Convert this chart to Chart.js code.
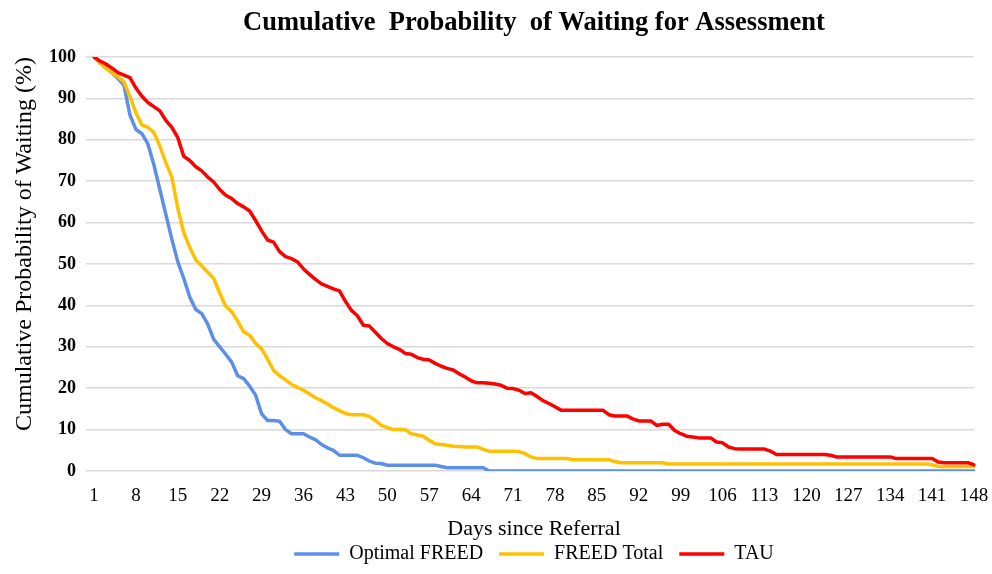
<!DOCTYPE html>
<html>
<head>
<meta charset="utf-8">
<script src="https://cdn.jsdelivr.net/npm/chart.js@4/dist/chart.umd.min.js"></script>
<style>
html,body{margin:0;padding:0;background:#fff;}
#wrap{width:992px;height:574px;position:relative;}
</style>
</head>
<body>
<div id="wrap"><canvas id="c" width="992" height="574"></canvas></div>
<script>
const days = [1,2,3,4,5,6,7,8,9,10,11,12,13,14,15,16,17,18,19,20,21,22,23,24,25,26,27,28,29,30,31,32,33,34,35,36,37,38,39,40,41,42,43,44,45,46,47,48,49,50,51,52,53,54,55,56,57,58,59,60,61,62,63,64,65,66,67,68,69,70,71,72,73,74,75,76,77,78,79,80,81,82,83,84,85,86,87,88,89,90,91,92,93,94,95,96,97,98,99,100,101,102,103,104,105,106,107,108,109,110,111,112,113,114,115,116,117,118,119,120,121,122,123,124,125,126,127,128,129,130,131,132,133,134,135,136,137,138,139,140,141,142,143,144,145,146,147,148];
const xTickLabels = ["1","8","15","22","29","36","43","50","57","64","71","78","85","92","99","106","113","120","127","134","141","148"];
const yTickValues = [0,10,20,30,40,50,60,70,80,90,100];

const optimalFreed = [
100,98.8,97.4,96.2,94.8,93.2,86,82.5,81.5,79,
74,68,62,56,50.5,46.5,42,39,38,35.5,
31.8,30,28.2,26.3,23,22.3,20.5,18.3,13.8,12.2,
12.2,12,10,9,9,9,8.2,7.6,6.4,5.6,
5,3.8,3.8,3.8,3.8,3.2,2.4,1.9,1.8,1.4,
1.4,1.4,1.4,1.4,1.4,1.4,1.4,1.4,1.1,0.8,
0.8,0.8,0.8,0.8,0.8,0.8,0,0,0,0,
0,0,0,0,0,0,0,0,0,0,
0,0,0,0,0,0,0,0,0,0,
0,0,0,0,0,0,0,0,0,0,
0,0,0,0,0,0,0,0,0,0,
0,0,0,0,0,0,0,0,0,0,
0,0,0,0,0,0,0,0,0,0,
0,0,0,0,0,0,0,0,0,0,
0,0,0,0,0,0,0,0];

const freedTotal = [
100,98.5,97.2,96.2,95.2,94,90.5,86.5,83.6,83,
81.8,78.5,74.5,71,63.5,57.5,54,51,49.5,48,
46.5,43,39.8,38.5,36.2,33.6,32.8,30.8,29.5,27,
24.3,23,22,20.9,20.2,19.5,18.6,17.7,17,16.2,
15.3,14.6,13.9,13.6,13.6,13.6,13.2,12.2,11,10.5,
10,10,10,9,8.7,8.4,7.4,6.6,6.4,6.2,
6,5.9,5.8,5.8,5.8,5.2,4.8,4.8,4.8,4.8,
4.8,4.7,4.2,3.4,3,3,3,3,3,3,
2.7,2.7,2.7,2.7,2.7,2.7,2.7,2.3,2,2,
2,2,2,2,2,2,1.7,1.7,1.7,1.7,
1.7,1.7,1.7,1.7,1.7,1.7,1.7,1.7,1.7,1.7,
1.7,1.7,1.7,1.7,1.7,1.7,1.7,1.7,1.7,1.7,
1.7,1.7,1.7,1.7,1.7,1.7,1.7,1.7,1.7,1.7,
1.7,1.7,1.7,1.7,1.7,1.7,1.7,1.7,1.7,1.7,
1.5,1.1,1.1,1.1,1.1,1.1,1.1,1.1];

const tau = [
100,99,98.3,97.3,96.2,95.6,95,92.5,90.5,89,
88,87,84.7,83,80.5,76,75,73.5,72.5,71,
69.8,68,66.6,65.8,64.6,63.8,62.8,60.5,58,55.8,
55.3,53,51.8,51.3,50.5,48.8,47.5,46.3,45.2,44.6,
44,43.5,41,38.8,37.5,35.2,35,33.5,32,30.8,
30,29.4,28.4,28.2,27.4,27,26.8,26,25.3,24.8,
24.4,23.5,22.7,21.8,21.3,21.3,21.2,21,20.7,20,
19.9,19.5,18.7,18.9,18,17,16.3,15.5,14.7,14.7,
14.7,14.7,14.7,14.7,14.7,14.7,13.6,13.3,13.3,13.3,
12.6,12.1,12.1,12.1,11,11.3,11.3,9.8,9,8.4,
8.2,8,8,8,7,6.8,5.8,5.4,5.3,5.3,
5.3,5.3,5.3,4.8,4,4,4,4,4,4,
4,4,4,3.8,3.4,3.4,3.4,3.4,3.4,3.4,
3.4,3.4,3.4,3.4,3,3,3,3,3,3,
3,2.2,2,2,2,2,2,1.5];

const seriesNames = ["Optimal FREED","FREED Total","TAU"];
const seriesColors = ["#5E8FE8","#FFC000","#FF0000"];

const serif = "'Liberation Serif','Times New Roman',serif";

function mk(i, data, order){
  return {
    label: seriesNames[i],
    data: data,
    borderColor: seriesColors[i],
    backgroundColor: seriesColors[i],
    borderWidth: 3.5,
    pointRadius: 0,
    pointHoverRadius: 0,
    tension: 0,
    borderJoinStyle: 'round',
    borderCapStyle: 'round',
    order: order
  };
}

new Chart(document.getElementById('c'), {
  type: 'line',
  data: {
    labels: days.map(String),
    datasets: [mk(0, optimalFreed, 2), mk(1, freedTotal, 1), mk(2, tau, 0)]
  },
  options: {
    responsive: false,
    animation: false,
    events: [],
    layout: { padding: { left: 0, right: 0, top: 0, bottom: 0 } },
    plugins: {
      title: {
        display: true,
        text: 'Cumulative  Probability  of Waiting for Assessment',
        color: '#000',
        fullSize: false,
        font: { family: serif, size: 26.5, weight: 'bold', lineHeight: 1.2 },
        padding: { top: 7, bottom: 18.2 }
      },
      legend: {
        position: 'bottom',
        fullSize: false,
        labels: {
          color: '#000',
          font: { family: serif, size: 20 },
          usePointStyle: true,
          pointStyle: 'line',
          pointStyleWidth: 45,
          padding: 16,
          sort: (a, b) => a.datasetIndex - b.datasetIndex
        }
      },
      tooltip: { enabled: false }
    },
    scales: {
      x: {
        type: 'category',
        grid: { display: false, drawTicks: false },
        border: { display: false },
        ticks: {
          autoSkip: false,
          maxRotation: 0,
          minRotation: 0,
          padding: 14,
          color: '#000',
          font: { family: serif, size: 19 },
          callback: function(v, i) {
            const l = this.getLabelForValue(v);
            return xTickLabels.includes(l) ? l : null;
          }
        },
        title: {
          display: true,
          text: 'Days since Referral',
          color: '#000',
          font: { family: serif, size: 22 },
          padding: { top: 0, bottom: -14 }
        },
        afterFit: (scale) => { scale.height = 57; scale.paddingRight = 18; }
      },
      y: {
        min: 0,
        max: 100,
        afterBuildTicks: (scale) => { scale.ticks = yTickValues.map(v => ({ value: v })); },
        grid: { color: '#d9d9d9', lineWidth: 1.5, tickLength: 8 },
        border: { display: false },
        ticks: {
          padding: 10,
          color: '#000',
          font: { family: serif, size: 18, weight: 'bold' }
        },
        title: {
          display: true,
          text: 'Cumulative Probability of Waiting (%)',
          color: '#000',
          align: 'end',
          font: { family: serif, size: 24 },
          padding: { top: 10, bottom: 4 }
        },
        afterFit: (scale) => { scale.width = 94; }
      }
    }
  }
});
</script>
</body>
</html>
